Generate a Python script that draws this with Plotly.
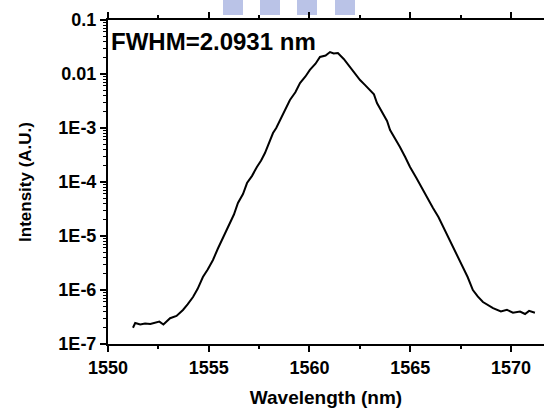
import plotly.graph_objects as go

# Wavelength (nm) and intensity (A.U.)
wavelength = [1551.24, 1551.35, 1551.6, 1551.84, 1552.1, 1552.33, 1552.55, 1552.75, 1552.93,
              1553.08, 1553.4, 1553.72, 1553.95, 1554.22, 1554.45, 1554.71, 1554.95, 1555.21,
              1555.45, 1555.66, 1555.85, 1556.05, 1556.25, 1556.45, 1556.7, 1556.90, 1557.15,
              1557.39, 1557.6, 1557.79, 1558.0, 1558.19, 1558.35, 1558.54, 1558.8, 1559.03,
              1559.3, 1559.53, 1559.8, 1560.02, 1560.3, 1560.52, 1560.8, 1561.02, 1561.2,
              1561.41, 1561.7, 1562.01, 1562.25, 1562.51, 1562.75, 1563.00, 1563.2, 1563.35,
              1563.65, 1563.85, 1564.00, 1564.25, 1564.49, 1564.75, 1564.99, 1565.3, 1565.63,
              1565.9, 1566.13, 1566.4, 1566.63, 1566.9, 1567.12, 1567.4, 1567.62, 1567.85,
              1568.11, 1568.35, 1568.61, 1568.85, 1569.11, 1569.5, 1569.80, 1570.1, 1570.45,
              1570.7, 1570.9, 1571.19]
intensity = [2.0e-7, 2.45e-7, 2.3e-7, 2.4e-7, 2.35e-7, 2.5e-7, 2.6e-7, 2.3e-7, 2.6e-7,
             3.0e-7, 3.3e-7, 4.27e-7, 5.4e-7, 7.41e-7, 1.05e-6, 1.74e-6, 2.4e-6, 3.6e-6,
             5.8e-6, 8.43e-6, 1.15e-5, 1.74e-5, 2.5e-5, 4.08e-5, 6.0e-5, 9.57e-5, 1.3e-4,
             1.90e-4, 2.5e-4, 3.44e-4, 5.5e-4, 8.07e-4, 1.0e-3, 1.41e-3, 2.1e-3, 3.30e-3,
             4.6e-3, 6.81e-3, 9.0e-3, 1.19e-2, 1.55e-2, 2.07e-2, 2.2e-2, 2.55e-2, 2.4e-2,
             2.45e-2, 1.9e-2, 1.35e-2, 1.05e-2, 7.74e-3, 6.3e-3, 5.06e-3, 4.2e-3, 2.9e-3,
             1.9e-3, 1.35e-3, 9.18e-4, 6.5e-4, 4.45e-4, 2.9e-4, 1.9e-4, 1.2e-4, 7.0e-5,
             4.65e-5, 3.3e-5, 2.25e-5, 1.5e-5, 9.57e-6, 6.4e-6, 4.08e-6, 2.7e-6, 1.74e-6,
             1.0e-6, 7.6e-7, 6.0e-7, 5.2e-7, 4.6e-7, 4.0e-7, 4.3e-7, 3.8e-7, 4.0e-7,
             3.6e-7, 4.1e-7, 3.8e-7]

y_tickvals = [1e-7, 1e-6, 1e-5, 1e-4, 1e-3, 1e-2, 1e-1]
y_ticktext = ["1E-7", "1E-6", "1E-5", "1E-4", "1E-3", "0.01", "0.1"]
x_tickvals = [1550, 1555, 1560, 1565, 1570]
x_ticktext = ["1550", "1555", "1560", "1565", "1570"]

FONT = "Liberation Sans, Arial, sans-serif"

fig = go.Figure()
fig.add_trace(go.Scatter(x=wavelength, y=intensity, mode="lines",
                         line=dict(color="black", width=2), showlegend=False))

# faint page watermark at the top
for x0, x1 in [(223, 243), (260, 280), (297, 317), (335, 355)]:
    fig.add_shape(type="rect", xref="paper", yref="paper",
                  x0=(x0 - 108) / 436, x1=(x1 - 108) / 436,
                  y0=(344 - 15) / 324, y1=(344 - 0) / 324,
                  fillcolor="#b3bde4", line_width=0, layer="below", opacity=0.9)

fig.add_annotation(text="<b>FWHM=2.0931 nm</b>", xref="paper", yref="paper",
                   x=(109 - 108) / 436, y=(344 - 42) / 324, xanchor="left", yanchor="middle",
                   showarrow=False, font=dict(family=FONT, size=24, color="black"))

fig.update_layout(
    width=544, height=412,
    margin=dict(l=108, r=0, t=20, b=68),
    paper_bgcolor="white", plot_bgcolor="white",
    font=dict(family=FONT, color="black"),
)
fig.update_xaxes(
    range=[1550, 1571.64], tickmode="array", tickvals=x_tickvals,
    ticktext=["<b>%s</b>" % t for t in x_ticktext],
    ticks="outside", ticklen=6, tickwidth=1.5, tickcolor="black",
    minor=dict(dtick=2.5, tick0=1550, ticks="outside", ticklen=3, tickwidth=1.5, tickcolor="black"),
    showline=True, linecolor="black", linewidth=2, mirror="ticks", showgrid=False, zeroline=False,
    tickfont=dict(family=FONT, size=18, color="black"),
    title=dict(text="<b>Wavelength (nm)</b>", font=dict(family=FONT, size=19, color="black"),
               standoff=14),
)
fig.update_yaxes(
    type="log", range=[-7, -1], tickmode="array", tickvals=y_tickvals,
    ticktext=["<b>%s</b>" % t for t in y_ticktext],
    ticks="outside", ticklen=6, tickwidth=1.5, tickcolor="black",
    minor=dict(dtick="D1", ticks="outside", ticklen=3, tickwidth=1, tickcolor="black"),
    showline=True, linecolor="black", linewidth=2, showgrid=False, zeroline=False,
    tickfont=dict(family=FONT, size=18, color="black"),
    title=dict(text="<b>Intensity (A.U.)</b>", font=dict(family=FONT, size=17, color="black"),
               standoff=22),
)

fig.write_html("out.html")
